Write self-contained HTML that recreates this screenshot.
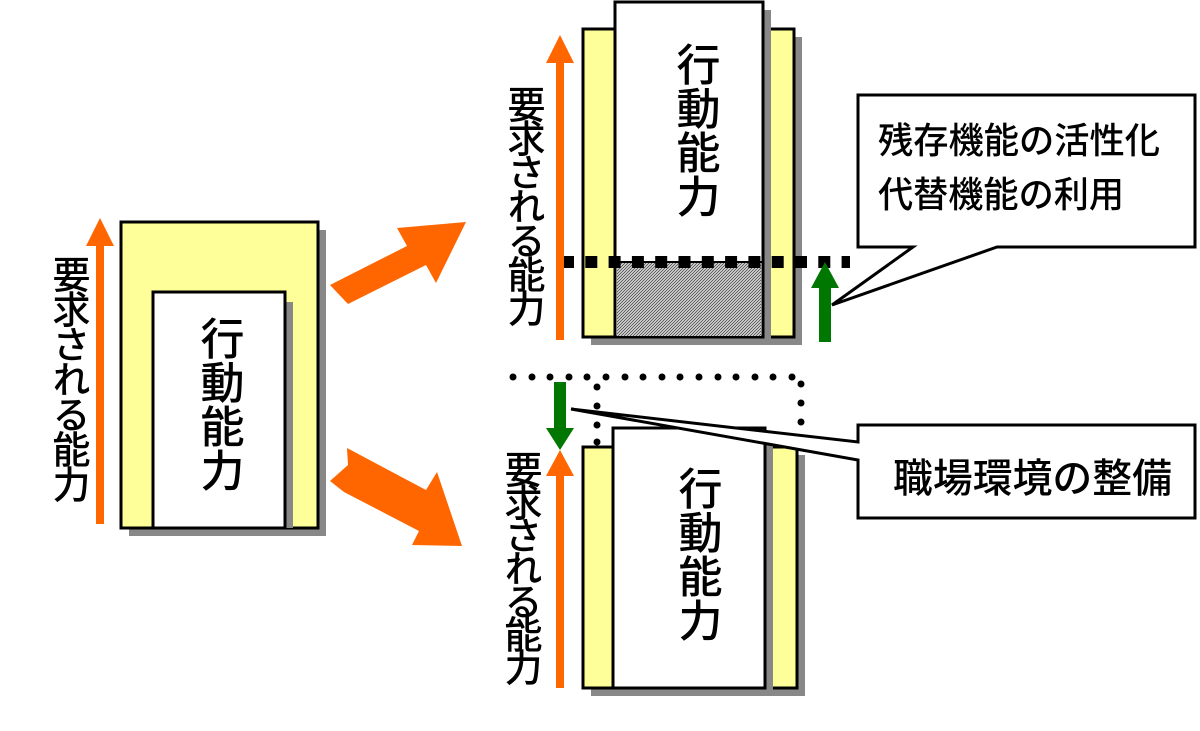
<!DOCTYPE html>
<html><head><meta charset="utf-8"><style>
html,body{margin:0;padding:0;background:#fff;}
svg text{font-family:"Liberation Sans","Noto Sans CJK JP",sans-serif;fill:#000;font-weight:500;}
</style></head><body>
<svg width="1200" height="726" viewBox="0 0 1200 726" xmlns="http://www.w3.org/2000/svg">
<defs>
<pattern id="h" width="3" height="3" patternUnits="userSpaceOnUse">
<rect width="3" height="3" fill="#eee"/>
<path d="M0 3L3 0M-1 1L1 -1M2 4L4 2" stroke="#555" stroke-width="1"/>
</pattern>
</defs>

<!-- LEFT GROUP -->
<rect x="129" y="230" width="197" height="306" fill="#888"/>
<rect x="121" y="222" width="197" height="306" fill="#ffff99" stroke="#000" stroke-width="3"/>
<rect x="161" y="302" width="132" height="226" fill="#888"/>
<rect x="153" y="292" width="132" height="236" fill="#fff" stroke="#000" stroke-width="3"/>
<rect x="96" y="244" width="8" height="280" fill="#ff6600"/>
<polygon points="100,218 86,246 114,246" fill="#ff6600"/>
<text font-size="38" writing-mode="tb" x="67" y="255" letter-spacing="-3">要求される能力</text>
<text font-size="44" writing-mode="tb" x="218" y="316">行動能力</text>

<!-- big orange arrows -->
<polygon points="330,285 407,246 397,228 466,222 436,283 426,265 348,304" fill="#ff6600"/>
<polygon points="330,481 348,465 347,448 426,490 437,472 462,546 412,545 419,531 344,492" fill="#ff6600"/>

<!-- TOP RIGHT GROUP -->
<rect x="591" y="37" width="211" height="308" fill="#888"/>
<rect x="583" y="29" width="211" height="308" fill="#ffff99" stroke="#000" stroke-width="3"/>
<rect x="623" y="10" width="148" height="335" fill="#888"/>
<rect x="615" y="2" width="148" height="335" fill="#fff" stroke="#000" stroke-width="3"/>
<rect x="617" y="262" width="144" height="74" fill="url(#h)"/>
<line x1="615" y1="262" x2="763" y2="262" stroke="#000" stroke-width="2"/>
<line x1="562" y1="262" x2="850" y2="262" stroke="#000" stroke-width="12" stroke-dasharray="12 11.3"/>
<rect x="556" y="62" width="8" height="278" fill="#ff6600"/>
<polygon points="560,35 546,63 574,63" fill="#ff6600"/>
<text font-size="38" writing-mode="tb" x="522" y="85" letter-spacing="-4">要求される能力</text>
<text font-size="44" writing-mode="tb" x="694" y="42">行動能力</text>
<rect x="819" y="286" width="12" height="56" fill="#007700"/>
<polygon points="825,262 811,288 839,288" fill="#007700"/>

<!-- callout 1 -->
<polygon points="858,95 1195,95 1195,247 997,247 832,305 913,247 858,247" fill="#fff" stroke="#000" stroke-width="3"/>
<text font-size="36" x="878" y="153" textLength="282" lengthAdjust="spacingAndGlyphs">残存機能の活性化</text>
<text font-size="36" x="878" y="207" textLength="246" lengthAdjust="spacingAndGlyphs">代替機能の利用</text>

<!-- BOTTOM RIGHT GROUP -->
<g fill="#000">
<circle cx="513" cy="377" r="3.5"/><circle cx="532" cy="377" r="3.5"/><circle cx="550" cy="377" r="3.5"/><circle cx="569" cy="377" r="3.5"/><circle cx="587" cy="377" r="3.5"/><circle cx="606" cy="377" r="3.5"/><circle cx="625" cy="377" r="3.5"/><circle cx="643" cy="377" r="3.5"/><circle cx="662" cy="377" r="3.5"/><circle cx="680" cy="377" r="3.5"/><circle cx="699" cy="377" r="3.5"/><circle cx="718" cy="377" r="3.5"/><circle cx="736" cy="377" r="3.5"/><circle cx="755" cy="377" r="3.5"/><circle cx="773" cy="377" r="3.5"/><circle cx="792" cy="377" r="3.5"/>
<circle cx="801" cy="384" r="3.5"/><circle cx="801" cy="403" r="3.5"/><circle cx="801" cy="422" r="3.5"/>
<circle cx="597" cy="387" r="3.5"/><circle cx="597" cy="406" r="3.5"/><circle cx="597" cy="425" r="3.5"/><circle cx="597" cy="442" r="3.5"/>
</g>
<rect x="591" y="455" width="214" height="241" fill="#888"/>
<rect x="583" y="447" width="214" height="241" fill="#ffff99" stroke="#000" stroke-width="3"/>
<rect x="621" y="436" width="152" height="260" fill="#888"/>
<rect x="613" y="428" width="152" height="260" fill="#fff" stroke="#000" stroke-width="3"/>
<rect x="556" y="474" width="8" height="214" fill="#ff6600"/>
<polygon points="560,450 546,476 574,476" fill="#ff6600"/>
<rect x="554" y="382" width="12" height="48" fill="#007700"/>
<polygon points="560,450 546,428 574,428" fill="#007700"/>
<text font-size="38" writing-mode="tb" x="519" y="450" letter-spacing="-5">要求される能力</text>
<text font-size="44" writing-mode="tb" x="696" y="466">行動能力</text>

<!-- callout 2 -->
<polygon points="858,425 1195,425 1195,518 858,518 858,460 571,409 858,442" fill="#fff" stroke="#000" stroke-width="3"/>
<text font-size="40" x="893" y="492" textLength="279" lengthAdjust="spacingAndGlyphs">職場環境の整備</text>
</svg>
</body></html>
